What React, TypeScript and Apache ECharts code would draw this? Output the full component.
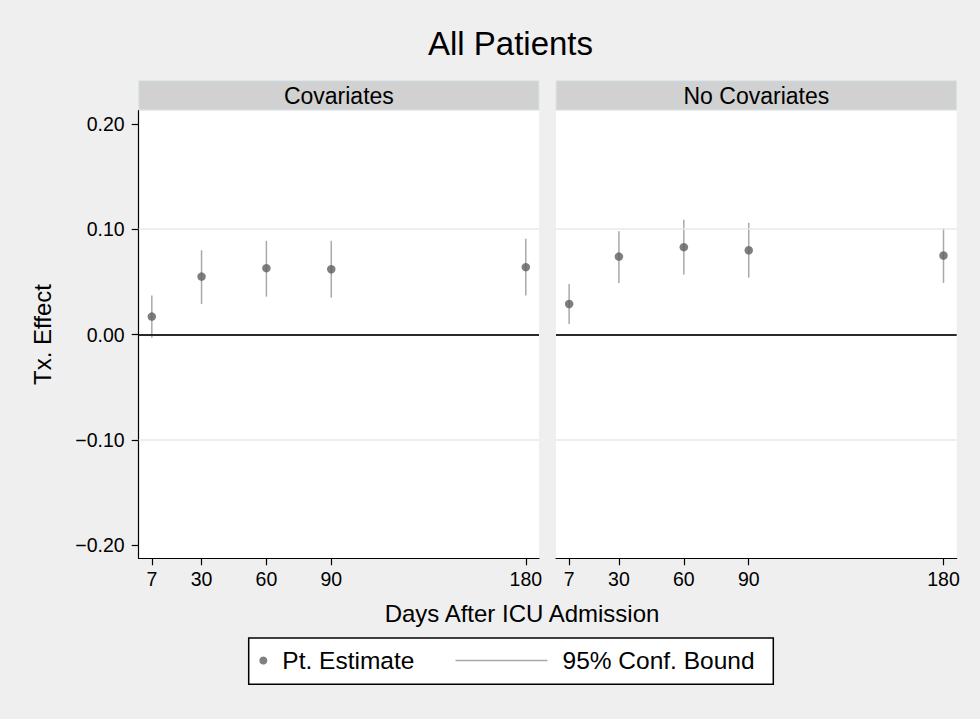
import React, { useEffect, useRef } from "react";
import * as echarts from "echarts";

const days = [7, 30, 60, 90, 180];
const yTicks = [-0.2, -0.1, 0, 0.1, 0.2];

const covEst = [0.017, 0.055, 0.063, 0.062, 0.064];
const covLo = [-0.003, 0.029, 0.036, 0.035, 0.037];
const covHi = [0.037, 0.08, 0.089, 0.089, 0.091];

const noCovEst = [0.029, 0.074, 0.083, 0.08, 0.075];
const noCovLo = [0.01, 0.049, 0.057, 0.054, 0.049];
const noCovHi = [0.048, 0.098, 0.109, 0.106, 0.101];

const panelTitles = ["Covariates", "No Covariates"];

const FONT = '"Liberation Sans", Arial, Helvetica, sans-serif';

const PLOT_TOP = 110.7;
const PLOT_H = 447.6;
const PANELS = [
  { left: 138.7, width: 400.3 },
  { left: 556, width: 400.7 },
];

export default function App() {
  const ref = useRef<HTMLDivElement>(null);

  useEffect(() => {
    document.body.style.margin = "0";
    if (!ref.current) return;
    const chart = echarts.init(ref.current, null, { renderer: "svg" });

    const estSets = [covEst, noCovEst];
    const loSets = [covLo, noCovLo];
    const hiSets = [covHi, noCovHi];

    const series: any[] = [];
    [0, 1].forEach((i) => {
      series.push({
        name: "95% Conf. Bound",
        type: "custom",
        xAxisIndex: i,
        yAxisIndex: i,
        z: 2,
        itemStyle: { color: "#a9a9a9" },
        encode: { x: 0, y: [1, 2] },
        data: days.map((d, k) => [d, loSets[i][k], hiSets[i][k]]),
        renderItem: (params: any, api: any) => {
          const x = api.value(0);
          const p1 = api.coord([x, api.value(1)]);
          const p2 = api.coord([x, api.value(2)]);
          return {
            type: "line",
            shape: { x1: p1[0], y1: p1[1], x2: p2[0], y2: p2[1] },
            style: { stroke: "#a9a9a9", lineWidth: 1.5 },
          };
        },
        markLine: {
          silent: true,
          symbol: "none",
          label: { show: false },
          data: [
            { yAxis: 0.1, lineStyle: { color: "#e8e8e8", width: 1.5, type: "solid" } },
            { yAxis: -0.1, lineStyle: { color: "#e8e8e8", width: 1.5, type: "solid" } },
            { yAxis: 0, lineStyle: { color: "#2a2a2a", width: 2, type: "solid" } },
          ],
        },
      });
      series.push({
        name: "Pt. Estimate",
        type: "scatter",
        xAxisIndex: i,
        yAxisIndex: i,
        z: 5,
        symbol: "circle",
        symbolSize: 8.5,
        itemStyle: { color: "#5f5f5f" },
        data: days.map((d, k) => [d, estSets[i][k]]),
      });
    });

    const legendText = { fontSize: 24.5, color: "#000", fontFamily: FONT, padding: [0, 0, 0, 10] };

    const option: any = {
      animation: false,
      backgroundColor: "#efefef",
      textStyle: { fontFamily: FONT },
      title: {
        text: "All Patients",
        left: 510.5,
        textAlign: "center",
        top: 27,
        padding: 0,
        textStyle: { fontSize: 33, fontWeight: "normal", color: "#000", fontFamily: FONT },
      },
      grid: PANELS.map((p) => ({
        left: p.left,
        top: PLOT_TOP,
        width: p.width,
        height: PLOT_H,
        show: true,
        backgroundColor: "#ffffff",
        borderWidth: 0,
      })),
      xAxis: [0, 1].map((i) => ({
        gridIndex: i,
        type: "value",
        min: 0.93,
        max: 186.1,
        axisLine: { show: true, onZero: false, lineStyle: { color: "#000", width: 1.2 } },
        axisTick: { show: true, length: 7, customValues: days, lineStyle: { color: "#000", width: 1.2 } },
        axisLabel: { customValues: days, fontSize: 19.5, color: "#000", margin: 11, fontFamily: FONT },
        splitLine: { show: false },
      })),
      yAxis: [
        {
          gridIndex: 0,
          type: "value",
          min: -0.2126,
          max: 0.2126,
          axisLine: { show: true, lineStyle: { color: "#000", width: 1.2 } },
          axisTick: { show: true, length: 7, customValues: yTicks, lineStyle: { color: "#000", width: 1.2 } },
          axisLabel: {
            customValues: yTicks,
            fontSize: 19.5,
            color: "#000",
            margin: 14,
            fontFamily: FONT,
            formatter: (v: number) => (v < -1e-9 ? "\u2212" : "") + Math.abs(v).toFixed(2),
          },
          splitLine: { show: false },
          name: "Tx. Effect",
          nameLocation: "middle",
          nameGap: 84,
          nameTextStyle: { fontSize: 24, color: "#000", fontFamily: FONT },
        },
        {
          gridIndex: 1,
          type: "value",
          min: -0.2126,
          max: 0.2126,
          show: false,
          splitLine: { show: false },
        },
      ],
      legend: [
        {
          data: ["Pt. Estimate"],
          left: 259.3,
          top: 648,
          padding: 0,
          itemWidth: 8,
          itemHeight: 8,
          icon: "circle",
          selectedMode: false,
          z: 10,
          textStyle: legendText,
        },
        {
          data: ["95% Conf. Bound"],
          left: 455.5,
          top: 648,
          padding: 0,
          itemWidth: 92,
          itemHeight: 1.5,
          icon: "rect",
          selectedMode: false,
          z: 10,
          textStyle: legendText,
        },
      ],
      graphic: [
        {
          type: "rect",
          z: 0,
          silent: true,
          shape: { x: 248.7, y: 638, width: 524.6, height: 46.3 },
          style: { fill: "#ffffff", stroke: "#000", lineWidth: 1.5 },
        },
        ...PANELS.map((p, i) => ({
          type: "group",
          silent: true,
          children: [
            {
              type: "rect",
              shape: { x: p.left, y: 80.7, width: p.width, height: 29.3 },
              style: { fill: "#d1d1d1", stroke: "#dbe6ea", lineWidth: 1 },
            },
            {
              type: "text",
              x: p.left + p.width / 2,
              y: 95.6,
              style: {
                text: panelTitles[i],
                fontSize: 23,
                fontFamily: FONT,
                fill: "#000",
                align: "center",
                verticalAlign: "middle",
              },
            },
          ],
        })),
        {
          type: "text",
          silent: true,
          x: 522,
          y: 613,
          style: {
            text: "Days After ICU Admission",
            fontSize: 24,
            fontFamily: FONT,
            fill: "#000",
            align: "center",
            verticalAlign: "middle",
          },
        },
      ],
      series,
    };

    chart.setOption(option);
    return () => chart.dispose();
  }, []);

  return <div ref={ref} style={{ width: 980, height: 719 }} />;
}
